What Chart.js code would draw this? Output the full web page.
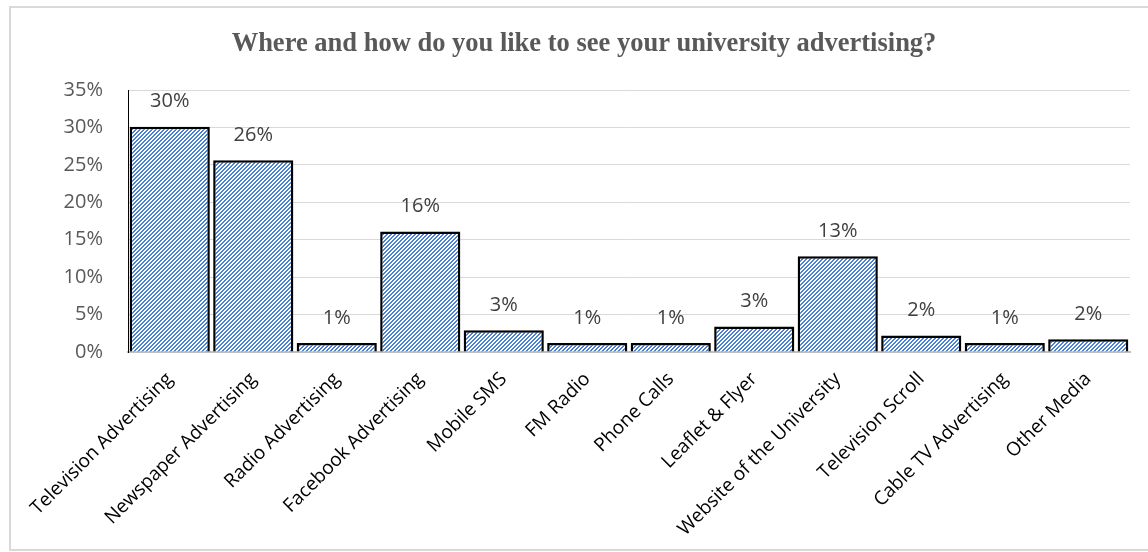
<!DOCTYPE html>
<html>
<head>
<meta charset="utf-8">
<style>
  html, body { margin: 0; padding: 0; background: #ffffff; }
  #wrap { width: 1148px; height: 552px; position: relative; }
</style>
<script src="https://cdn.jsdelivr.net/npm/chart.js@4.4.1/dist/chart.umd.min.js"></script>
</head>
<body>
<div id="wrap"><canvas id="chart" width="1148" height="552"></canvas></div>
<script>
// Survey: preferred channels for university advertising (share of respondents, %)
const titleText = 'Where and how do you like to see your university advertising?';
const categories = [
  'Television Advertising', 'Newspaper Advertising', 'Radio Advertising',
  'Facebook Advertising', 'Mobile SMS', 'FM Radio', 'Phone Calls',
  'Leaflet & Flyer', 'Website of the University', 'Television Scroll',
  'Cable TV Advertising', 'Other Media'
];
const shares = [30.1, 25.6, 1.2, 16.1, 2.9, 1.2, 1.2, 3.4, 12.8, 2.2, 1.2, 1.7];
const yTickValues = [0, 5, 10, 15, 20, 25, 30, 35];

const canvas = document.getElementById('chart');
const ctx = canvas.getContext('2d');

// Blue "wide upward diagonal" hatch fill
function hatchPattern(color) {
  const tile = document.createElement('canvas');
  tile.width = 4; tile.height = 4;
  const t = tile.getContext('2d');
  t.fillStyle = '#ffffff';
  t.fillRect(0, 0, 4, 4);
  t.fillStyle = color;
  for (let y = 0; y < 4; y++) {
    for (let x = 0; x < 4; x++) {
      if ((x + y) % 4 < 2) t.fillRect(x, y, 1, 1);
    }
  }
  return ctx.createPattern(tile, 'repeat');
}

// Light frame around the whole figure
const framePlugin = {
  id: 'frame',
  beforeDraw(chart) {
    const c = chart.ctx;
    c.save();
    c.fillStyle = '#ffffff';
    c.fillRect(0, 0, chart.width, chart.height);
    c.strokeStyle = '#d9d9d9';
    c.lineWidth = 2;
    c.strokeRect(10, 7, chart.width + 10, chart.height - 9);
    c.restore();
  }
};

// Heading above the plot
const headingPlugin = {
  id: 'heading',
  afterDraw(chart) {
    const c = chart.ctx;
    c.save();
    c.font = 'bold 26.5px "Liberation Serif", "Times New Roman", serif';
    c.fillStyle = '#595959';
    c.textAlign = 'center';
    c.textBaseline = 'alphabetic';
    c.fillText(titleText, 584, 51);
    c.restore();
  }
};

// Percentage label above each bar
const valueLabelPlugin = {
  id: 'valueLabels',
  afterDatasetsDraw(chart) {
    const c = chart.ctx;
    const meta = chart.getDatasetMeta(0);
    const values = chart.data.datasets[0].data;
    c.save();
    c.font = '20px "Open Sans", sans-serif';
    c.fillStyle = '#404040';
    c.textAlign = 'center';
    c.textBaseline = 'middle';
    meta.data.forEach((bar, i) => {
      c.fillText(Math.round(values[i]) + '%', bar.x, bar.y - 25);
    });
    c.restore();
  }
};

new Chart(ctx, {
  type: 'bar',
  data: {
    labels: categories,
    datasets: [{
      data: shares,
      backgroundColor: hatchPattern('#4a82d2'),
      borderColor: '#000000',
      borderWidth: 2.5,
      borderSkipped: 'bottom',
      barPercentage: 0.96,
      categoryPercentage: 1.0
    }]
  },
  options: {
    responsive: false,
    animation: false,
    devicePixelRatio: 1,
    layout: { padding: { top: 90, right: 18, left: 0, bottom: 0 } },
    plugins: {
      legend: { display: false },
      title: { display: false },
      tooltip: { enabled: false }
    },
    scales: {
      x: {
        grid: { display: false, drawTicks: false },
        border: { color: '#bfbfbf', width: 2 },
        ticks: {
          autoSkip: false,
          minRotation: 45,
          maxRotation: 45,
          padding: 16,
          color: '#000000',
          font: { family: '"Open Sans", sans-serif', size: 19 }
        },
        afterFit(scale) { scale.height = 200; }
      },
      y: {
        min: 0,
        max: 35,
        afterBuildTicks(scale) { scale.ticks = yTickValues.map(v => ({ value: v })); },
        ticks: {
          padding: 25,
          color: '#595959',
          font: { family: '"Open Sans", sans-serif', size: 20 },
          callback: v => v + '%'
        },
        grid: { color: '#d9d9d9', lineWidth: 1, drawTicks: false },
        border: { color: '#000000', width: 1 },
        afterFit(scale) { scale.width = 128; }
      }
    }
  },
  plugins: [framePlugin, headingPlugin, valueLabelPlugin]
});
</script>
</body>
</html>
